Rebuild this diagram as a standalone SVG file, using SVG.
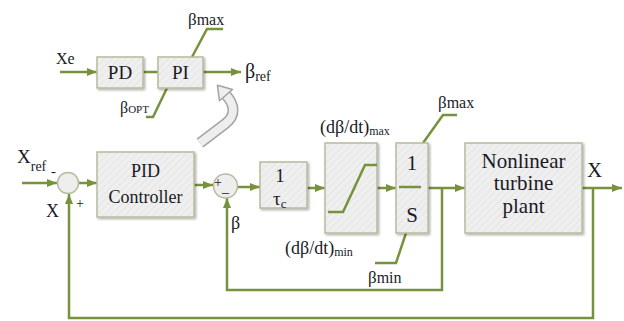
<svg xmlns="http://www.w3.org/2000/svg" width="624" height="321" viewBox="0 0 624 321">
<defs>
<pattern id="hatch" width="5" height="5" patternUnits="userSpaceOnUse" patternTransform="rotate(45)">
<rect width="5" height="5" fill="#efefef"/>
<line x1="0" y1="0" x2="0" y2="5" stroke="#e2e2e2" stroke-width="1.5"/>
</pattern>
<filter id="sh" x="-20%" y="-20%" width="140%" height="140%">
<feDropShadow dx="1.5" dy="1.5" stdDeviation="1.2" flood-color="#000" flood-opacity="0.3"/>
</filter>
<marker id="ah" markerWidth="10" markerHeight="8" refX="10" refY="4" orient="auto" markerUnits="userSpaceOnUse">
<path d="M0,0 L10,4 L0,8 Z" fill="#76923c"/>
</marker>
</defs>
<style>
.box{fill:url(#hatch);stroke:#b7bc9d;stroke-width:1.5;filter:url(#sh)}
.ln{fill:none;stroke:#76923c;stroke-width:2.5}
.ar{fill:none;stroke:#76923c;stroke-width:2.5;marker-end:url(#ah)}
.t{fill:#1a1a26}
.c{text-anchor:middle}
</style>
<rect width="624" height="321" fill="#ffffff"/>

<g id="connectors">
<line class="ar" x1="60" y1="72" x2="97" y2="72"/>
<line class="ln" x1="143" y1="72" x2="158" y2="72"/>
<line class="ar" x1="203" y1="72" x2="241" y2="72"/>
<polyline class="ln" points="192,57 207,29 223,29"/>
<polyline class="ln" points="167,88 153,117 146,117"/>
<line class="ar" x1="22" y1="183" x2="57" y2="183"/>
<line class="ar" x1="79" y1="183" x2="97" y2="183"/>
<line class="ar" x1="194" y1="185" x2="213" y2="185"/>
<line class="ar" x1="238" y1="187" x2="260" y2="187"/>
<line class="ar" x1="265" y1="188" x2="325" y2="188"/>
<line class="ar" x1="377" y1="188" x2="396" y2="188"/>
<line class="ar" x1="428" y1="188" x2="465" y2="188"/>
<line class="ar" x1="582" y1="188" x2="622" y2="188"/>
<polyline class="ar" points="442,188 442,290 227,290 227,198"/>
<polyline class="ar" points="593,188 593,318 69,318 69,194"/>
<polyline class="ln" points="423,143 443,115 457,115"/>
<polyline class="ln" points="406,233 396,263 375,263"/>
</g>

<g id="curved-arrow">
<path d="M200,143 L225,124 C237,115 234,104 226,95" fill="none" stroke="#a3a3a3" stroke-width="11" stroke-linejoin="round"/>
<path d="M200,143 L225,124 C237,115 234,104 226,95" fill="none" stroke="#eeeeee" stroke-width="8" stroke-linejoin="round"/>
<path d="M217.4,85.3 L232.5,89.5 L219.5,100.8 Z" fill="#eeeeee" stroke="#a3a3a3" stroke-width="1.5" stroke-linejoin="round"/>
</g>

<g font-family="'Liberation Serif', 'Times New Roman', serif">
<g id="xe-label"><text class="t" x="56" y="64" font-size="16">Xe</text></g>
<g id="pd"><rect class="box" x="97" y="57" width="46" height="31"/><text class="t c" x="120" y="79" font-size="19">PD</text></g>
<g id="pi"><rect class="box" x="158" y="57" width="45" height="31"/><text class="t c" x="180.5" y="79" font-size="19">PI</text></g>
<g id="bref-label"><text class="t" x="245" y="78" font-size="20">β<tspan font-size="14" dy="3">ref</tspan></text></g>
<g id="bmax-top"><text class="t" x="188" y="25" font-size="17">β<tspan font-size="16">max</tspan></text></g>
<g id="bopt"><text class="t" x="120" y="113" font-size="16">β<tspan font-size="11">OPT</tspan></text></g>

<g id="xref-label"><text class="t" x="17" y="163" font-size="19">X<tspan font-size="14" dy="8">ref</tspan></text>
<text class="t" x="51" y="176" font-size="15">-</text></g>
<g id="sum1"><circle cx="68" cy="183" r="10.5" fill="#eeeeee" stroke="#b7bc9d" stroke-width="1.5"/>
<text class="t" x="46" y="217" font-size="18">X</text>
<text class="t" x="76" y="208" font-size="14">+</text></g>

<g id="pid"><rect class="box" x="97" y="152" width="97" height="65"/>
<text class="t c" x="145.5" y="177" font-size="18">PID</text>
<text class="t c" x="145.5" y="203" font-size="18">Controller</text></g>

<g id="sum2"><circle cx="225.5" cy="186" r="12" fill="#eeeeee" stroke="#b7bc9d" stroke-width="1.5"/>
<text class="t" x="214" y="187" font-size="14">+</text>
<text class="t" x="222" y="192" font-size="14">_</text>
<text class="t" x="231" y="229" font-size="18">β</text></g>

<g id="tau"><rect class="box" x="260" y="162" width="47" height="46"/>
<text class="t c" x="280" y="182" font-size="19">1</text>
<text class="t" x="273" y="205" font-size="19">τ<tspan font-size="13" dy="3">c</tspan></text></g>

<g id="sat"><rect class="box" x="325" y="143" width="52" height="90"/>
<polyline class="ln" points="328,212 343,212 365,165 377,165"/>
<text class="t" x="320" y="133" font-size="18">(dβ/dt)<tspan font-size="12" dy="2">max</tspan></text>
<text class="t" x="285" y="254" font-size="18">(dβ/dt)<tspan font-size="12" dy="2">min</tspan></text></g>

<g id="integrator"><rect class="box" x="396" y="143" width="32" height="90"/>
<text class="t c" x="412" y="170" font-size="21">1</text>
<line x1="399" y1="187" x2="421" y2="187" stroke="#76923c" stroke-width="2.5"/>
<text class="t c" x="412" y="222" font-size="21">S</text>
<text class="t" x="438" y="108" font-size="17">β<tspan font-size="16">max</tspan></text>
<text class="t" x="368" y="283" font-size="17">β<tspan font-size="16">min</tspan></text></g>

<g id="plant"><rect class="box" x="465" y="143" width="117" height="90"/>
<text class="t c" x="523.5" y="168" font-size="21">Nonlinear</text>
<text class="t c" x="523.5" y="190" font-size="21">turbine</text>
<text class="t c" x="523.5" y="213" font-size="21">plant</text></g>

<g id="x-out"><text class="t" x="587" y="177" font-size="21">X</text></g>
</g>
</svg>
